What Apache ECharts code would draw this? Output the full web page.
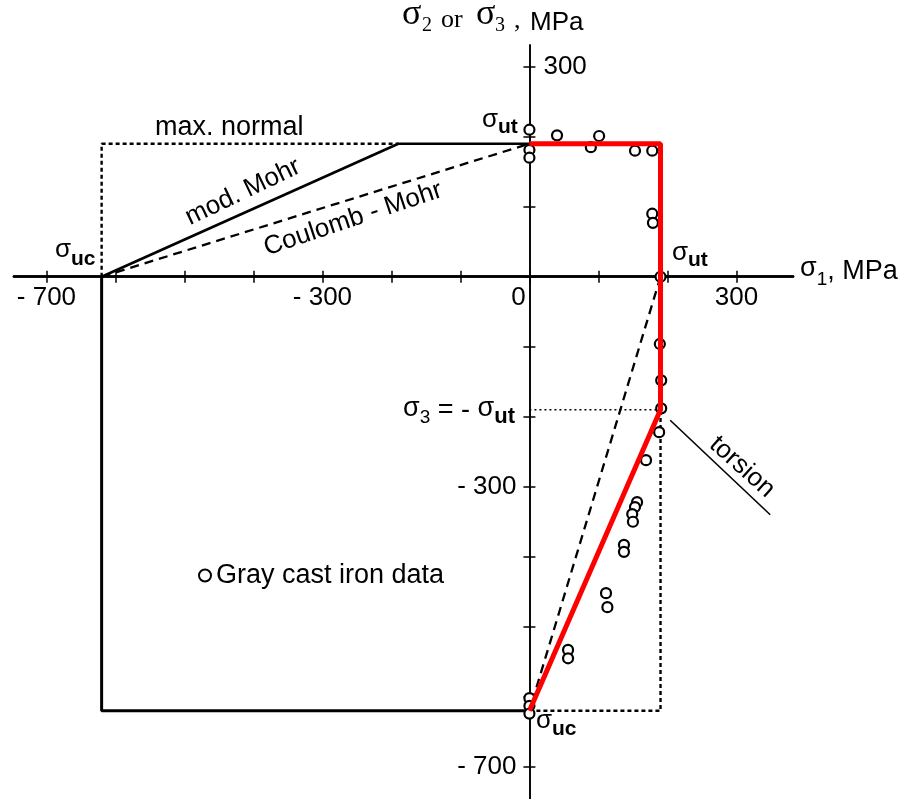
<!DOCTYPE html>
<html><head><meta charset="utf-8">
<script src="https://cdn.jsdelivr.net/npm/echarts@6/dist/echarts.min.js"></script>
<style>html,body{margin:0;padding:0;background:#fff}#c{width:908px;height:799px}</style>
</head><body><div id="c"></div>
<script>
// ---- data ----
const sigmaUT = 190;      // ultimate tensile strength, MPa
const sigmaUC = -620;     // ultimate compressive strength, MPa
const xTickValues = [-700, -600, -500, -400, -300, -200, -100, 0, 100, 200, 300];
const xTickLabels = [-700, -300, 0, 300];
const yTickValues = [-700, -600, -500, -400, -300, -200, -100, 0, 100, 200, 300];
const yTickLabelsLeft = [-300, -700];
const yTickLabelsRight = [300];
const grayCastIronData = [
  [0, 210], [0, 181], [0, 170], [40, 202], [89, 185], [101, 201], [153, 180], [178, 180],
  [178, 90], [179, 77], [190, 0], [189, -96], [191, -148], [191, -188], [188, -222],
  [169, -262], [156, -322], [153, -329], [149, -339], [150, -350], [137, -383], [137, -393],
  [111, -452], [113, -472], [56, -533], [56, -545], [0, -602], [0, -613], [0, -624]
];
const torsionLeader = [[204, -205], [349, -340]];

// criteria outlines built from the two strengths
const maxNormal2nd = [[sigmaUC, 0], [sigmaUC, sigmaUT], [-sigmaUT, sigmaUT]];
const modMohr2nd = [[sigmaUC, 0], [-sigmaUT, sigmaUT], [0, sigmaUT]];
const coulomb2nd = [[sigmaUC, 0], [0, sigmaUT]];
const thirdQuad = [[sigmaUC, 0], [sigmaUC, sigmaUC], [0, sigmaUC]];
const maxNormal4th = [[0, sigmaUC], [sigmaUT, sigmaUC], [sigmaUT, -sigmaUT]];
const torsionRef = [[0, -sigmaUT], [sigmaUT, -sigmaUT]];
const coulomb4th = [[sigmaUT, 0], [0, sigmaUC]];
const modMohrRed = [[0, sigmaUT], [sigmaUT, sigmaUT], [sigmaUT, -sigmaUT], [0, sigmaUC]];

// ---- chart ----
const SANS = '"Liberation Sans", Arial, sans-serif';
const SERIF = '"Liberation Serif", "Times New Roman", serif';
const INK = '#000';
const chart = echarts.init(document.getElementById('c'), null, {renderer: 'canvas'});

const mctx = document.createElement('canvas').getContext('2d');
function tw(t, f) { mctx.font = f; return mctx.measureText(t).width; }
function textRun(x, y, parts, anchor) {
  let total = 0;
  parts.forEach(p => total += tw(p.t, p.f));
  let cx = anchor === 'right' ? x - total : x;
  const els = [];
  parts.forEach(p => {
    els.push({type: 'text', x: cx, y: y + (p.dy || 0), silent: true,
      style: {text: p.t, font: p.f, fill: INK, textAlign: 'left', textVerticalAlign: 'middle', align: 'left', verticalAlign: 'middle'}});
    cx += tw(p.t, p.f);
  });
  return els;
}
function label(x, y, t, f, rot, alignH) {
  return {type: 'text', x: x, y: y, rotation: rot || 0, silent: true,
    style: {text: t, font: f, fill: INK, textAlign: alignH || 'center', textVerticalAlign: 'middle', align: alignH || 'center', verticalAlign: 'middle'}};
}
function lineSeries(name, data, color, width, type, z) {
  return {type: 'line', name: name, data: data, symbol: 'none', showSymbol: false, silent: true,
    lineStyle: {color: color, width: width, type: type}, z: z, xAxisIndex: 0, yAxisIndex: 0, animation: false};
}
function axisDef(min, max, pos, width, ticks) {
  return {type: 'value', min: min, max: max, position: pos,
    axisLine: {onZero: true, onZeroAxisIndex: 0, lineStyle: {color: INK, width: width}},
    axisTick: {show: true, inside: false, length: 6, customValues: ticks, lineStyle: {color: INK, width: 1.5}},
    axisLabel: {show: false}, splitLine: {show: false}};
}

const S = (n) => n + 'px ' + SANS;
const SB = (n) => 'bold ' + n + 'px ' + SANS;
const SR = (n) => n + 'px ' + SERIF;

const option = {
  animation: false,
  backgroundColor: '#fff',
  grid: {left: 14, top: 45, width: 779, height: 754, containLabel: false, outerBoundsMode: 'none'},
  legend: {
    data: ['Gray cast iron data'], left: 193, top: 557, itemWidth: 12, itemHeight: 12, itemGap: 5,
    textStyle: {fontSize: 27, fontFamily: SANS, color: INK}, selectedMode: false
  },
  xAxis: [axisDef(-747, 382, 'bottom', 2.6, xTickValues), axisDef(-747, 382, 'top', 2.6, xTickValues)],
  yAxis: [axisDef(-746, 331, 'left', 1.6, yTickValues), axisDef(-746, 331, 'right', 1.6, yTickValues)],
  series: [
    lineSeries('maxNormal2nd', maxNormal2nd, INK, 2.4, [4, 3], 2),
    lineSeries('modMohr2nd', modMohr2nd, INK, 2.6, 'solid', 2),
    lineSeries('coulomb2nd', coulomb2nd, INK, 2.3, [9, 6], 2),
    lineSeries('thirdQuad', thirdQuad, INK, 3, 'solid', 2),
    lineSeries('maxNormal4th', maxNormal4th, INK, 2.4, [4, 3], 2),
    lineSeries('torsionRef', torsionRef, INK, 1.3, [2, 3], 2),
    lineSeries('coulomb4th', coulomb4th, INK, 2.3, [9, 6], 2),
    lineSeries('torsionLeader', torsionLeader, INK, 1.6, 'solid', 2),
    {type: 'scatter', name: 'Gray cast iron data', data: grayCastIronData, symbol: 'circle', symbolSize: 10,
     itemStyle: {color: '#fff', borderColor: INK, borderWidth: 2.2, opacity: 1}, z: 3, silent: true, xAxisIndex: 0, yAxisIndex: 0},
    lineSeries('modMohrRed', modMohrRed, '#ff0000', 5, 'solid', 4)
  ]
};
chart.setOption(option);

// tick labels positioned through the axes' own scales
const px = (x, y) => chart.convertToPixel({xAxisIndex: 0, yAxisIndex: 0}, [x, y]);
const fmt = v => v < 0 ? '- ' + Math.abs(v) : String(v);
const tickLabelEls = [];
xTickLabels.forEach(v => {
  const p = px(v, 0);
  tickLabelEls.push(label(p[0] + (v === 0 ? -11 : 0), p[1] + 21, fmt(v), S(26), 0, 'center'));
});
yTickLabelsLeft.forEach(v => {
  const p = px(0, v);
  tickLabelEls.push(label(p[0] - 13, p[1], fmt(v), S(26), 0, 'right'));
});
yTickLabelsRight.forEach(v => {
  const p = px(0, v);
  tickLabelEls.push(label(p[0] + 14, p[1], fmt(v), S(26), 0, 'left'));
});

const graphics = [].concat(
  tickLabelEls,
  [
    label(402, 15, 'σ', SR(36), 0, 'left'),
    label(422, 25.5, '2', SR(20), 0, 'left'),
    label(441, 20, 'or', SR(26), 0, 'left'),
    label(476, 15, 'σ', SR(36), 0, 'left'),
    label(495, 25.5, '3', SR(20), 0, 'left'),
    label(514, 21, ',', SR(26), 0, 'left'),
    label(530, 22.5, 'MPa', S(26), 0, 'left')
  ],
  textRun(482, 119.5, [{t: 'σ', f: S(26)}, {t: 'ut', f: SB(21), dy: 7.5}]),
  textRun(55, 250, [{t: 'σ', f: S(26)}, {t: 'uc', f: SB(21), dy: 9}]),
  textRun(672, 253, [{t: 'σ', f: S(26)}, {t: 'ut', f: SB(21), dy: 7}]),
  textRun(800, 269, [{t: 'σ', f: S(27)}, {t: '1', f: S(19), dy: 11}, {t: ', MPa', f: S(27), dy: 3}]),
  textRun(515, 409, [{t: 'σ', f: S(27)}, {t: '3', f: S(19), dy: 9}, {t: ' = - ', f: S(27), dy: 2}, {t: 'σ', f: S(27)}, {t: 'ut', f: SB(22), dy: 8}], 'right'),
  textRun(536, 721, [{t: 'σ', f: S(26)}, {t: 'uc', f: SB(21), dy: 8}]),
  [
    label(155, 128, 'max. normal', S(27), 0, 'left'),
    label(243, 192, 'mod. Mohr', S(26), 0.445),
    label(353, 219, 'Coulomb - Mohr', S(26), 0.323),
    label(742, 467, 'torsion', S(26), -0.733)
  ]
);
chart.setOption({graphic: graphics});
</script></body></html>
